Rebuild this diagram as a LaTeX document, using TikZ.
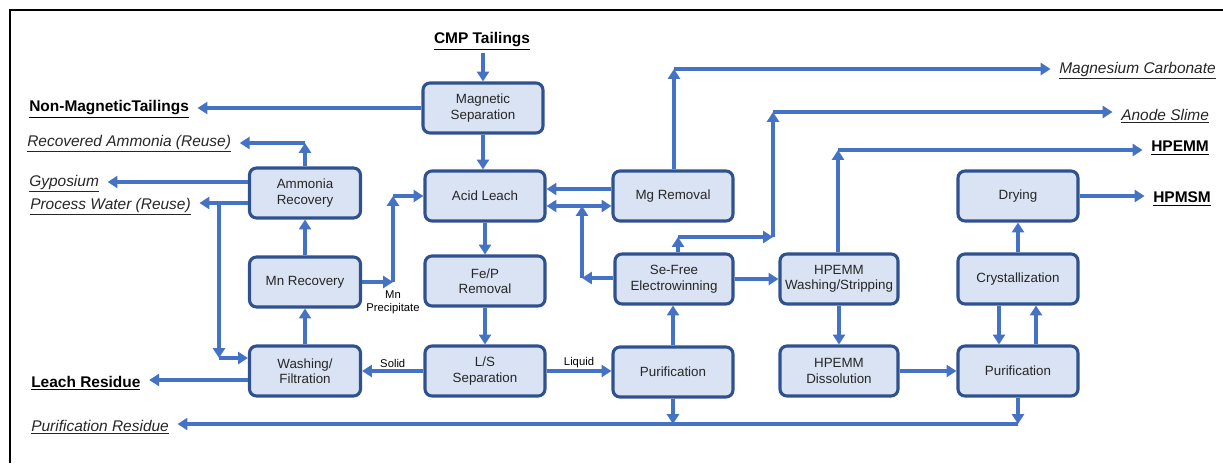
\documentclass[tikz,border=0pt]{standalone}
\usepackage{fontspec}
\setmainfont{Liberation Sans}
\usetikzlibrary{arrows.meta}

\definecolor{flowblue}{HTML}{4472C4}
\definecolor{boxedge}{HTML}{2F528F}
\definecolor{boxfill}{HTML}{DAE3F3}

\begin{document}
\begin{tikzpicture}[
    x=0.025cm, y=-0.025cm,
    procbox/.style={
        draw=boxedge, fill=boxfill, line width=2.2pt, rounded corners=5pt,
        minimum width=3cm, minimum height=1.25cm, align=center,
        font=\fontsize{9.5}{11}\selectfont, text=black!85
    },
    narrowbox/.style={procbox, minimum width=2.775cm},
    flow/.style={draw=flowblue, line width=2.4pt, -{Triangle[length=7pt,width=8.5pt]}},
    outlabel/.style={inner sep=0pt, font=\fontsize{11}{13}\selectfont\itshape, text=black!85},
    prodlabel/.style={inner sep=0pt, font=\fontsize{11}{13}\selectfont\bfseries},
    steplabel/.style={font=\fontsize{8}{9.2}\selectfont, align=center, inner sep=1pt},
    gap/.style={shorten >=6pt}
]
\useasboundingbox (0,0) rectangle (1223,463);

% frame
\draw[line width=1.6pt] (10,463) -- (10,10) -- (1223,10);

% Process boxes
\node[procbox] (magsep) at (483,108) {Magnetic\\Separation};
\node[procbox] (leach) at (485,196) {Acid Leach};
\node[procbox] (mgrem) at (673,196) {Mg Removal};
\node[narrowbox] (ammrec) at (305,193) {Ammonia\\Recovery};
\node[narrowbox] (mnrec) at (305,282) {Mn Recovery};
\node[narrowbox] (washfil) at (305,371) {Washing/\\Filtration};
\node[procbox] (fep) at (485,281) {Fe/P\\Removal};
\node[procbox] (lssep) at (485,371) {L/S\\Separation};
\node[procbox] (purif) at (673,372) {Purification};
\node[procbox, minimum width=2.95cm] (sefree) at (674,279) {Se-Free\\Electrowinning};
\node[procbox, minimum width=2.95cm] (hpwash) at (839,279) {HPEMM\\Washing/Stripping};
\node[procbox, minimum width=2.95cm] (hpdiss) at (839,371) {HPEMM\\Dissolution};
\node[procbox] (cryst) at (1018,279) {Crystallization};
\node[procbox] (purifb) at (1018,371) {Purification};
\node[procbox] (drying) at (1018,196) {Drying};

% Inputs and outputs
\node[prodlabel] (cmp) at (482,41) {\underline{CMP Tailings}};
\node[prodlabel, anchor=west] (nonmag) at (29,109) {\underline{Non-MagneticTailings}};
\node[outlabel, anchor=west] (recamm) at (27,144) {\underline{Recovered Ammonia (Reuse)}};
\node[outlabel, anchor=west] (gyp) at (29,184) {\underline{Gyposium}};
\node[outlabel, anchor=west] (pwater) at (30,207) {\underline{Process Water (Reuse)}};
\node[prodlabel, anchor=west] (leachres) at (31,383) {\underline{Leach Residue}};
\node[outlabel, anchor=west] (purres) at (31,427) {\underline{Purification Residue}};
\node[outlabel, anchor=west] (mgcarb) at (1059,71) {\underline{Magnesium Carbonate}};
\node[outlabel, anchor=west] (anode) at (1121,116) {\underline{Anode Slime}};
\node[prodlabel, anchor=west] (hpemm) at (1151,148) {\underline{HPEMM}};
\node[prodlabel, anchor=west] (hpmsm) at (1153,199) {\underline{HPMSM}};

% Junction points
\coordinate (ammtop) at (305,143);
\coordinate (pw) at (219,203);
\coordinate (pwdown) at (219,358);
\coordinate (mnp) at (393,282);
\coordinate (mnp2) at (393,196);
\coordinate (sel) at (582,278);
\coordinate (sel2) at (582,206);
\coordinate (mgc) at (674,69);
\coordinate (set) at (678,237);
\coordinate (set2) at (773,237);
\coordinate (set3) at (773,112);
\coordinate (hpt) at (838,150);
\coordinate (pra) at (673,424);
\coordinate (prb) at (1018,424);

% Main line
\draw[flow, shorten <=2pt] (cmp.south -| magsep.north) -- (magsep.north);
\draw[flow, gap] (magsep.west) -- (magsep.west -| nonmag.east);
\draw[flow] (magsep.south) -- (magsep.south |- leach.north);
\draw[flow] (leach) -- (fep);
\draw[flow] (fep) -- (lssep);
\draw[flow] (lssep.west) -- (washfil.east) node[midway, above, steplabel] {Solid};
\draw[flow] (lssep.east) -- (purif.west |- lssep.east) node[midway, above, steplabel] {Liquid};
\draw[flow] (purif.north) -- (purif.north |- sefree.south);

% Left column
\draw[flow] (washfil) -- (mnrec);
\draw[flow] (mnrec) -- (ammrec);
\draw[flow] (ammrec.north) -- (ammtop);
\draw[flow, gap] (ammtop) -- (ammtop -| recamm.east);
\draw[flow, gap] (ammrec.west |- 0,182) -- (gyp.east |- 0,182);
\draw[flow, gap] (ammrec.west |- pw) -- (pwater.east |- pw);
\draw[flow] (pw) -- (pwdown);
\draw[flow] (pwdown) -- (washfil.west |- pwdown);
\draw[flow, gap] (washfil.west |- 0,380) -- (leachres.east |- 0,380);

% Mn precipitate back to leach
\draw[flow] (mnrec.east) -- (mnp);
\draw[flow] (mnp) -- (mnp2);
\draw[flow] (mnp2) -- (leach.west |- mnp2);
\node[steplabel, below=5pt] (mnlabel) at (mnp) {Mn\\Precipitate};

% Mg removal loop
\draw[flow] (mgrem.west |- 0,189) -- (leach.east |- 0,189);
\draw[flow, {Triangle[length=7pt,width=8.5pt]}-{Triangle[length=7pt,width=8.5pt]}] (leach.east |- 0,206) -- (mgrem.west |- 0,206);
\draw[flow] (sefree.west |- sel) -- (sel);
\draw[flow] (sel) -- (sel2);
\draw[flow] (mgrem.north -| mgc) -- (mgc);
\draw[flow, gap] (mgc) -- (mgcarb.west |- mgc);

% Electrowinning products
\draw[flow] (sefree.north -| set) -- (set);
\draw[flow] (set) -- (set2);
\draw[flow] (set2) -- (set3);
\draw[flow, gap] (set3) -- (anode.west |- set3);
\draw[flow] (sefree) -- (hpwash);
\draw[flow] (hpwash.north -| hpt) -- (hpt);
\draw[flow, gap] (hpt) -- (hpemm.west |- hpt);

% HPMSM line
\draw[flow] (hpwash) -- (hpdiss);
\draw[flow] (hpdiss.east) -- (purifb.west |- hpdiss.east);
\draw[flow] (purifb.north -| 1036,0) -- (cryst.south -| 1036,0);
\draw[flow] (cryst.south -| 999,0) -- (purifb.north -| 999,0);
\draw[flow] (cryst) -- (drying);
\draw[flow, gap] (drying.east) -- (hpmsm.west |- drying.east);

% Purification residue
\draw[flow] (purif.south) -- (pra);
\draw[flow] (purifb.south) -- (prb);
\draw[flow, gap] (prb) -- (purres.east |- prb);

\end{tikzpicture}
\end{document}
